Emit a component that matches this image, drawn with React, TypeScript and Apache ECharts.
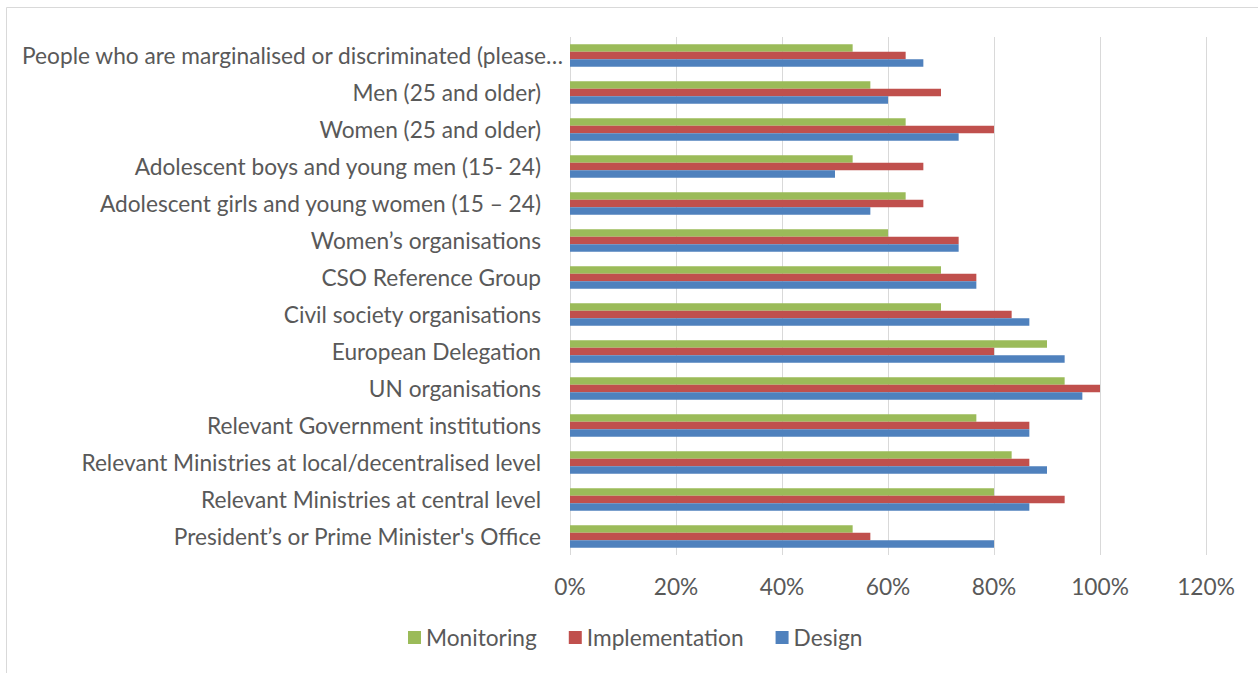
import React, { useEffect, useRef } from "react";
import * as echarts from "echarts";

const categories = [
  "President’s or Prime Minister's Office",
  "Relevant Ministries at central level",
  "Relevant Ministries at local/decentralised level",
  "Relevant Government institutions",
  "UN organisations",
  "European Delegation",
  "Civil society organisations",
  "CSO Reference Group",
  "Women’s organisations",
  "Adolescent girls and young women (15 – 24)",
  "Adolescent boys and young men (15- 24)",
  "Women (25 and older)",
  "Men (25 and older)",
  "People who are marginalised or discriminated (please…",
];

const design = [80, 86.67, 90, 86.67, 96.67, 93.33, 86.67, 76.67, 73.33, 56.67, 50, 73.33, 60, 66.67];
const implementation = [56.67, 93.33, 86.67, 86.67, 100, 80, 83.33, 76.67, 73.33, 66.67, 66.67, 80, 70, 63.33];
const monitoring = [53.33, 80, 83.33, 76.67, 93.33, 90, 70, 70, 60, 63.33, 53.33, 63.33, 56.67, 53.33];

const xTicks = { min: 0, max: 120, interval: 20 };

const FONT = "Lato";
const TEXT = "#595959";
const FS = 22.7;

export default function App() {
  const ref = useRef<HTMLDivElement>(null);
  useEffect(() => {
    const chart = echarts.init(ref.current!, null, { renderer: "svg" });
    const last = categories.length - 1;
    chart.setOption({
      animation: false,
      backgroundColor: "#ffffff",
      textStyle: { fontFamily: FONT },
      graphic: [
        {
          type: "rect",
          shape: { x: 6.5, y: 7.5, width: 1300, height: 700 },
          style: { fill: "none", stroke: "#d9d9d9", lineWidth: 1 },
          silent: true,
        },
      ],
      grid: { left: 570, right: 52, top: 37, bottom: 118, containLabel: false },
      legend: {
        data: ["Monitoring", "Implementation", "Design"],
        left: 403,
        top: 621,
        itemWidth: 13,
        itemHeight: 13,
        itemGap: 32,
        icon: "rect",
        textStyle: { fontFamily: FONT, fontSize: FS, color: TEXT },
      },
      xAxis: {
        type: "value",
        min: xTicks.min,
        max: xTicks.max,
        interval: xTicks.interval,
        axisLine: { show: false },
        axisTick: { show: false },
        splitLine: { show: true, lineStyle: { color: "#d9d9d9", width: 1 } },
        axisLabel: {
          formatter: "{value}%",
          fontFamily: FONT,
          fontSize: FS,
          color: TEXT,
          margin: 20,
        },
      },
      yAxis: {
        type: "category",
        data: categories,
        axisLine: { show: false },
        axisTick: { show: false },
        axisLabel: {
          fontFamily: FONT,
          fontSize: FS,
          color: TEXT,
          margin: 7,
          formatter: (v: string, i: number) => (i === last ? `{a|${v}}` : `{b|${v}}`),
          rich: {
            a: { fontFamily: FONT, fontSize: FS, color: TEXT, padding: [0, 0, 1, 0] },
            b: { fontFamily: FONT, fontSize: FS, color: TEXT, padding: [0, 22, 1, 0] },
          },
        },
      },
      series: [
        {
          name: "Monitoring",
          type: "bar",
          data: monitoring,
          itemStyle: { color: "#9BBB59" },
          barGap: "0%",
          barCategoryGap: "39%",
        },
        {
          name: "Implementation",
          type: "bar",
          data: implementation,
          itemStyle: { color: "#C0504D" },
          barGap: "0%",
          barCategoryGap: "39%",
        },
        {
          name: "Design",
          type: "bar",
          data: design,
          itemStyle: { color: "#4F81BD" },
          barGap: "0%",
          barCategoryGap: "39%",
        },
      ],
    });
    return () => chart.dispose();
  }, []);
  return (
    <div
      ref={ref}
      style={{ position: "fixed", left: 0, top: 0, width: 1258, height: 673 }}
    />
  );
}
